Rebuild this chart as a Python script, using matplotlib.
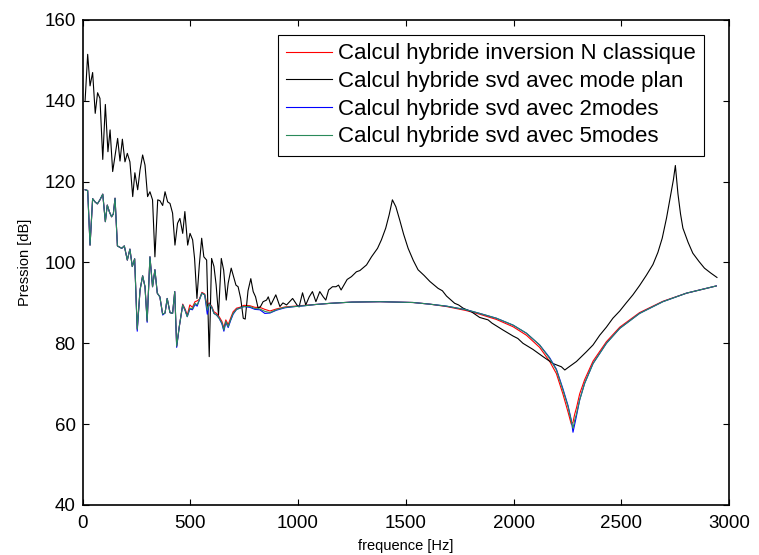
import numpy as np
import matplotlib
matplotlib.use('Agg')
import matplotlib.pyplot as plt

plt.rcParams['font.family'] = ['Liberation Sans', 'DejaVu Sans']

# Black curve: svd with plane mode (frequency [Hz], pressure [dB])
f_plan = [12, 24, 35, 47, 59, 70, 81, 94, 106, 118, 128, 140, 151, 163, 174,
          185, 197, 208, 220, 233, 243, 256, 267, 279, 290, 302, 313, 325, 336,
          349, 359, 372, 383, 395, 406, 418, 429, 441, 452, 465, 475, 488, 499,
          511, 520, 531, 542, 553, 563, 576, 588, 599, 610, 620, 631, 644, 655,
          667, 676, 690, 699, 712, 722, 734, 746, 755, 768, 781, 792, 803, 815,
          826, 838, 854, 862, 874, 897, 916, 930, 947, 975, 995, 1005, 1021,
          1036, 1052, 1067, 1083, 1101, 1117, 1129, 1142, 1160, 1176, 1188,
          1200, 1213, 1228, 1248, 1271, 1287, 1318, 1341, 1369, 1387, 1407,
          1423, 1438, 1454, 1472, 1490, 1511, 1535, 1557, 1585, 1612, 1650,
          1670, 1689, 1727, 1745, 1766, 1805, 1843, 1870, 1882, 1900, 1921,
          1951, 1998, 2020, 2044, 2090, 2137, 2183, 2222, 2238, 2253, 2292,
          2338, 2369, 2400, 2431, 2461, 2493, 2523, 2554, 2585, 2616, 2647,
          2670, 2690, 2710, 2730, 2742, 2751, 2757, 2763, 2775, 2786, 2810,
          2832, 2860, 2886, 2915, 2944]
p_plan = [140, 151.5, 143.7, 147, 136.9, 142, 140.6, 125.5, 139.1, 127.4, 132.8,
          122.5, 126.4, 130.7, 125.1, 130.5, 124.9, 127, 124.9, 116.3, 122.2,
          118, 122.9, 126.6, 124.1, 116.3, 117.5, 115.5, 101.4, 115.5, 115.3,
          114.1, 117.5, 115, 114.6, 112.2, 104.3, 109.7, 110.9, 107.2, 112.6,
          104.3, 107.2, 105.6, 101, 91.1, 99.4, 106, 101.4, 100.6, 76.7, 101, 99,
          94.5, 87, 101, 98.1, 90.7, 94.9, 98.6, 96.9, 94.4, 94, 91.1, 86.2, 86,
          93, 96, 92.8, 91.5, 88.7, 89.1, 90.3, 90.7, 91.5, 89.5, 92, 89.1, 90,
          89.5, 91.1, 89.5, 89, 92.5, 89.5, 91.5, 92.8, 90.3, 92.8, 91.5, 90.7,
          93.2, 94, 94, 94.4, 93.2, 94.4, 95.8, 96.5, 97.7, 98, 99.4, 101.4,
          103.5, 105.6, 108.5, 111.8, 115.5, 113.8, 110.5, 107.0, 103.5, 100.5,
          98.2, 96.8, 95.3, 93.6, 93.0, 91.7, 89.9, 89.5, 88.7, 87.8, 86.4,
          86.0, 85.8, 85.0, 84.3, 83.3, 81.8, 81.2, 80, 78.5, 76.7, 75, 74.2,
          73.4, 74.0, 75.5, 77.9, 79.6, 82.0, 84.0, 86.2, 88.0, 90.0, 92.0,
          94.3, 96.8, 99.5, 102.5, 106, 111, 117, 120.5, 124, 120.5, 117,
          112, 108.5, 105, 102.3, 100.3, 98.6, 97.4, 96.3]

# Coloured curves (classic inversion, svd 2 modes, svd 5 modes)
f_hyb = [12, 24, 35, 47, 58, 69, 81, 94, 106, 115, 125, 135, 143, 151, 162,
         172, 182, 194, 208, 220, 231, 242, 254, 267, 279, 290, 300, 313, 325,
         336, 347, 359, 372, 383, 393, 406, 418, 428, 437, 449, 465, 477, 486,
         498, 510, 522, 532, 542, 554, 567, 579, 588, 599, 610, 622, 634, 647,
         656, 665, 676, 687, 699, 715, 730, 749, 777, 800, 823, 846, 870, 900,
         940, 985, 1030, 1080, 1150, 1250, 1380, 1460, 1534, 1610, 1689, 1781,
         1843, 1921, 1998, 2060, 2121, 2167, 2199, 2229, 2253, 2268, 2276,
         2284, 2292, 2307, 2330, 2369, 2431, 2493, 2585, 2693, 2802, 2941]
p_classique = [118, 117.8, 104.3, 115.8, 115, 114.5, 115.5, 116.9, 110.1, 114.2,
               112.5, 111.3, 112, 115.9, 104.1, 103.8, 103.5, 104.1, 100.6, 103.3,
               99, 100.9, 83.5, 93.2, 96.7, 94, 85.5, 101.4, 94, 98.2, 92.4, 91.5,
               87.2, 87.5, 91.1, 87.6, 87.4, 92.8, 79.3, 84.1, 89.7, 88.4, 86.9,
               89.5, 88.9, 90.3, 90.5, 90.9, 92.6, 92.2, 89.2, 90.0, 89.2, 87.8,
               87.4, 86.6, 85.4, 83.8, 85.8, 84.6, 86.2, 87.8, 88.7, 88.9, 89.4,
               89.3, 88.9, 88.9, 88.4, 88.0, 88.5, 89.0, 89.2, 89.4, 89.6, 89.9,
               90.2, 90.3, 90.2, 90.1, 89.7, 89.1, 88.1, 87.2, 85.9, 84.1, 82.0,
               79.0, 75.6, 72.5, 67.5, 63.0, 60.0, 60.5, 62.5, 64.0, 67.5, 71.0,
               75.6, 80.4, 84.0, 87.6, 90.4, 92.4, 94.2]
p_2modes = [118, 117.8, 104.3, 115.8, 115, 114.5, 115.5, 116.9, 110.1, 114.2,
            112.5, 111.3, 112, 115.9, 104.1, 103.8, 103.5, 104.1, 100.6, 103.3,
            99, 100.9, 83.0, 93.2, 96.7, 94, 85.2, 101.4, 94, 98.2, 92.4, 91.5,
            87.0, 87.5, 91.1, 87.6, 87.4, 92.8, 79.0, 84.1, 89.5, 88.0, 86.6,
            88.5, 88.3, 89.6, 89.2, 90.7, 92.4, 92.0, 87.2, 89.7, 89.0, 87.4,
            87.0, 86.2, 84.8, 83.0, 85.2, 83.9, 85.6, 87.2, 88.4, 88.7, 89.1,
            88.9, 88.4, 88.3, 87.4, 87.5, 88.2, 88.8, 89.1, 89.3, 89.6, 89.9,
            90.2, 90.3, 90.2, 90.1, 89.7, 89.2, 88.3, 87.4, 86.2, 84.5, 82.5,
            79.6, 76.5, 73.6, 68.8, 64.6, 61.0, 58.0, 60.0, 62.0, 66.0, 70.1,
            75.0, 80.0, 83.7, 87.4, 90.3, 92.4, 94.2]
p_5modes = [118, 117.8, 104.3, 115.8, 115, 114.5, 115.5, 116.9, 110.1, 114.2,
            112.5, 111.3, 112, 115.9, 104.1, 103.8, 103.5, 104.1, 100.6, 103.3,
            99, 100.9, 83.5, 93.2, 96.7, 94, 85.5, 101.4, 94, 98.2, 92.4, 91.5,
            87.2, 87.5, 91.1, 87.6, 87.4, 92.8, 79.3, 84.1, 89.5, 88.0, 86.6,
            88.7, 88.5, 89.9, 89.5, 90.7, 92.4, 92.0, 88.2, 89.7, 89.0, 87.4,
            87.0, 86.2, 85.0, 83.3, 85.4, 84.1, 85.8, 87.4, 88.4, 88.7, 89.1,
            89.1, 88.6, 88.5, 87.9, 87.6, 88.3, 88.9, 89.1, 89.3, 89.6, 89.9,
            90.2, 90.3, 90.2, 90.1, 89.7, 89.2, 88.3, 87.4, 86.2, 84.5, 82.5,
            79.6, 76.3, 73.4, 68.5, 64.3, 60.8, 59.0, 61.0, 62.5, 66.0, 70.1,
            75.0, 80.0, 83.7, 87.4, 90.3, 92.4, 94.2]

labels = ['Calcul hybride inversion N classique',
          'Calcul hybride svd avec mode plan',
          'Calcul hybride svd avec 2modes',
          'Calcul hybride svd avec 5modes']

fig = plt.figure(figsize=(7.59, 5.55), dpi=100)
ax = fig.add_axes([0.1087, 0.0901, 0.8518, 0.8739])

ax.plot(f_hyb, p_classique, color='#ff0000', lw=0.8, label=labels[0])
ax.plot(f_plan, p_plan, color='black', lw=0.8, label=labels[1])
ax.plot(f_hyb, p_2modes, color='#0000ff', lw=0.8, label=labels[2])
ax.plot(f_hyb, p_5modes, color='#2a8a5a', lw=0.8, label=labels[3])

ax.set_xlim(0, 3000)
ax.set_ylim(40, 160)
ax.set_xticks(np.arange(0, 3001, 500))
ax.set_yticks(np.arange(40, 161, 20))
ax.tick_params(direction='in', top=True, right=True, length=4, width=0.8,
               labelsize=13.5)
ax.tick_params(axis='x', pad=7)
ax.tick_params(axis='y', pad=5)
for s in ax.spines.values():
    s.set_linewidth(1.2)

ax.set_xlabel('frequence [Hz]', fontsize=10.5, labelpad=5)
ax.set_ylabel('Pression [dB]', fontsize=10.5, labelpad=9)

leg = ax.legend(loc='upper right', bbox_to_anchor=(0.962, 0.969), fontsize=16,
                frameon=True, fancybox=False, framealpha=1, edgecolor='black',
                handlelength=2.05, handletextpad=0.28, labelspacing=0.3,
                borderpad=0.38, borderaxespad=0)
leg.get_frame().set_linewidth(0.8)

fig.savefig('out.png', dpi=100)
